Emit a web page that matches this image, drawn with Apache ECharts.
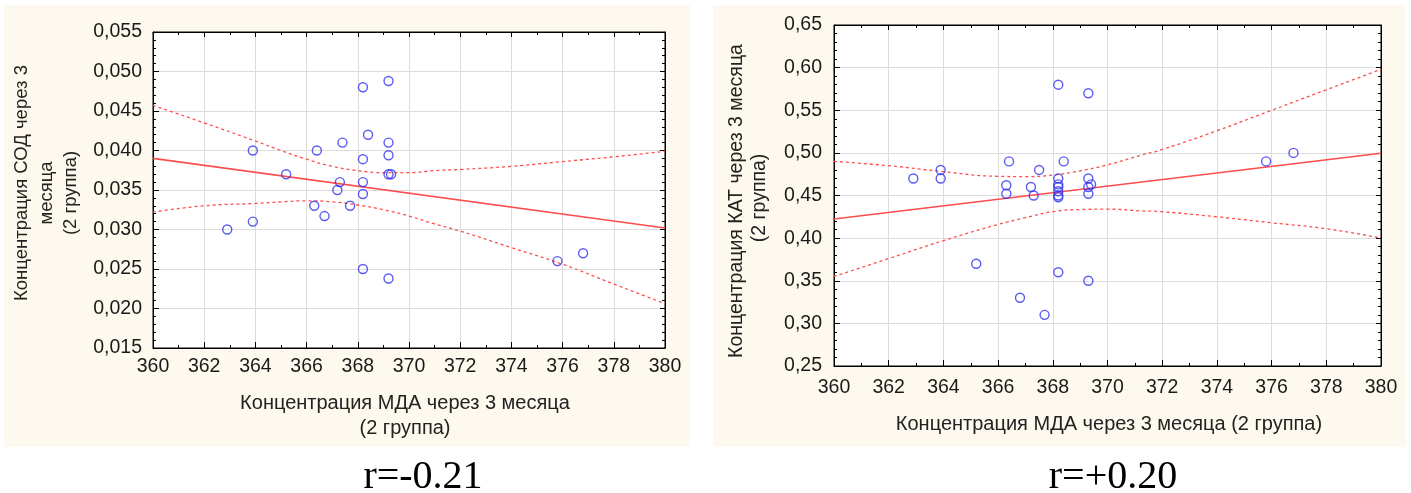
<!DOCTYPE html>
<html>
<head>
<meta charset="utf-8">
<script src="https://cdn.jsdelivr.net/npm/echarts@6/dist/echarts.min.js"></script>
<style>
html,body{margin:0;padding:0;background:#fff;}
#c{width:1411px;height:493px;}
</style>
</head>
<body>
<div id="c"></div>
<script>
// ---- data ----
const xTicksMin = 360, xTicksMax = 380, xInterval = 2;

// Left chart: МДА vs СОД
const sodX = [362.9, 363.9, 363.9, 365.2, 366.3, 366.4, 366.7, 367.2, 367.3, 367.4, 367.7, 368.2, 368.2, 368.2, 368.2, 368.2, 368.4, 369.2, 369.2, 369.2, 369.2, 369.3, 369.2, 375.8, 376.8];
const sodY = [0.030, 0.040, 0.031, 0.037, 0.033, 0.040, 0.0317, 0.035, 0.036, 0.041, 0.033, 0.048, 0.0389, 0.036, 0.0345, 0.025, 0.042, 0.0488, 0.041, 0.0394, 0.037, 0.037, 0.0238, 0.026, 0.027];
const sodFitX = [360, 380];
const sodFitY = [0.0390, 0.0302];
const sodBandX = [360, 362, 364, 365, 366, 367, 368, 369, 370, 371, 372, 374, 376, 378, 380];
const sodUpper = [0.0457, 0.0435, 0.0412, 0.0400, 0.0389, 0.0380, 0.03745, 0.0372, 0.0372, 0.03745, 0.0376, 0.0380, 0.0386, 0.0392, 0.0399];
const sodLower = [0.0322, 0.0330, 0.0333, 0.0335, 0.03363, 0.0335, 0.0331, 0.0325, 0.0317, 0.0307, 0.0298, 0.0277, 0.0256, 0.0231, 0.0206];

// Right chart: МДА vs КАТ
const katX = [362.9, 363.9, 363.9, 365.2, 366.3, 366.3, 366.4, 366.8, 367.2, 367.3, 367.5, 367.7, 368.2, 368.2, 368.2, 368.2, 368.2, 368.2, 368.2, 368.2, 368.4, 369.3, 369.3, 369.3, 369.4, 369.3, 369.3, 375.8, 376.8];
const katY = [0.47, 0.48, 0.47, 0.37, 0.462, 0.452, 0.49, 0.33, 0.46, 0.45, 0.48, 0.31, 0.58, 0.47, 0.463, 0.46, 0.455, 0.45, 0.448, 0.36, 0.49, 0.57, 0.47, 0.46, 0.463, 0.452, 0.35, 0.49, 0.50];
const katFitX = [360, 380];
const katFitY = [0.4225, 0.4996];
const katBandX = [360, 362, 364, 366, 367, 368, 369, 370, 371.2, 372, 374, 376, 378, 380];
const katUpper = [0.490, 0.485, 0.478, 0.4725, 0.4722, 0.474, 0.479, 0.486, 0.497, 0.504, 0.526, 0.550, 0.574, 0.598];
const katLower = [0.355, 0.376, 0.397, 0.416, 0.424, 0.431, 0.4335, 0.434, 0.432, 0.431, 0.425, 0.418, 0.411, 0.400];

const sodYMin = 0.015, sodYMax = 0.055, sodYInterval = 0.005;
const katYMin = 0.25, katYMax = 0.65, katYInterval = 0.05;

const leftTitleY = ['Концентрация СОД через 3', 'месяца', '(2 группа)'];
const leftTitleX = ['Концентрация МДА через 3 месяца', '(2 группа)'];
const rightTitleY = ['Концентрация КАТ через 3 месяца', '(2 группа)'];
const rightTitleX = ['Концентрация МДА через 3 месяца (2 группа)'];
const rLabels = ['r=-0.21', 'r=+0.20'];

// ---- build ----
const zip = (a, b) => a.map((v, i) => [v, b[i]]);
const FONT = 'Liberation Sans, Arial, sans-serif';
const PT_COLOR = '#3232ee';
const LINE_COLOR = '#ff4d4d';
const TICK_FS = 19.5;

function xAxes(gi, margin) {
  return [{
    gridIndex: gi, type: 'value', min: xTicksMin, max: xTicksMax, interval: xInterval,
    axisLine: {show: true, lineStyle: {color: '#000', width: 1}},
    axisTick: {show: true, inside: true, length: 6, lineStyle: {color: '#000'}},
    minorTick: {show: true, splitNumber: 2, length: 3, lineStyle: {color: '#000'}},
    axisLabel: {color: '#1a1a1a', fontSize: TICK_FS, fontFamily: FONT, margin: margin},
    splitLine: {show: true, lineStyle: {color: '#dcdcdc', width: 1}}
  }, {
    gridIndex: gi, type: 'value', position: 'top', min: xTicksMin, max: xTicksMax, interval: xInterval,
    axisLine: {show: true, lineStyle: {color: '#000', width: 1}},
    axisTick: {show: true, inside: true, length: 5, lineStyle: {color: '#000'}},
    minorTick: {show: true, splitNumber: 2, length: 3, lineStyle: {color: '#000'}},
    axisLabel: {show: false}, splitLine: {show: false}
  }];
}
function yAxes(gi, min, max, interval, digits, margin) {
  return [{
    gridIndex: gi, type: 'value', min: min, max: max, interval: interval,
    axisLine: {show: true, lineStyle: {color: '#000', width: 1}},
    axisTick: {show: true, inside: true, length: 6, lineStyle: {color: '#000'}},
    minorTick: {show: true, splitNumber: 5, length: 3, lineStyle: {color: '#000'}},
    axisLabel: {color: '#1a1a1a', fontSize: TICK_FS, fontFamily: FONT, margin: margin,
      formatter: v => v.toFixed(digits).replace('.', ',')},
    splitLine: {show: true, lineStyle: {color: '#dcdcdc', width: 1}}
  }, {
    gridIndex: gi, type: 'value', position: 'right', min: min, max: max, interval: interval,
    axisLine: {show: true, lineStyle: {color: '#000', width: 1}},
    axisTick: {show: true, inside: true, length: 5, lineStyle: {color: '#000'}},
    minorTick: {show: true, splitNumber: 5, length: 3, lineStyle: {color: '#000'}},
    axisLabel: {show: false}, splitLine: {show: false}
  }];
}

function seriesFor(xi, yi, px, py, fx, fy, bx, bu, bl) {
  const dash = {color: LINE_COLOR, width: 1.3, type: [3, 3]};
  return [
    {type: 'line', xAxisIndex: xi, yAxisIndex: yi, data: zip(bx, bu), smooth: true, symbol: 'none', lineStyle: dash, silent: true, z: 2},
    {type: 'line', xAxisIndex: xi, yAxisIndex: yi, data: zip(bx, bl), smooth: true, symbol: 'none', lineStyle: dash, silent: true, z: 2},
    {type: 'line', xAxisIndex: xi, yAxisIndex: yi, data: zip(fx, fy), symbol: 'none', lineStyle: {color: LINE_COLOR, width: 1.6}, silent: true, z: 2},
    {type: 'scatter', xAxisIndex: xi, yAxisIndex: yi, data: zip(px, py), symbol: 'circle', symbolSize: 9,
      itemStyle: {color: 'rgba(0,0,0,0)', borderColor: PT_COLOR, borderWidth: 1.4}, z: 3}
  ];
}

function txt(text, x, y, opts) {
  return Object.assign({
    type: 'text', x: x, y: y, z: 10,
    style: Object.assign({text: text, fill: '#222', font: '20px ' + FONT, align: 'center', verticalAlign: 'middle'}, opts && opts.style || {})
  }, opts && opts.el || {});
}

const graphics = [
  {type: 'rect', shape: {x: 4, y: 5, width: 686, height: 442}, style: {fill: '#fef9ee'}, z: -100, silent: true},
  {type: 'rect', shape: {x: 713, y: 5, width: 693, height: 442}, style: {fill: '#fef9ee'}, z: -100, silent: true}
];
// left y title
const lyx = [22, 46.5, 71], lyy = [183, 193, 193];
leftTitleY.forEach((t, i) => graphics.push(txt(t, lyx[i], lyy[i], {el: {rotation: Math.PI / 2}, style: {font: '18.5px ' + FONT}})));
// left x title
const lxy = [403, 428];
leftTitleX.forEach((t, i) => graphics.push(txt(t, 405, lxy[i])));
// right y title
const ryx = [737, 760], ryy = [201, 198];
rightTitleY.forEach((t, i) => graphics.push(txt(t, ryx[i], ryy[i], {el: {rotation: Math.PI / 2}, style: {font: '19.5px ' + FONT}})));
// right x title
rightTitleX.forEach((t) => graphics.push(txt(t, 1109, 424)));
// r labels
const serif = '40px Liberation Serif, Times New Roman, serif';
graphics.push(txt(rLabels[0], 423, 477, {style: {font: serif, fill: '#000'}}));
graphics.push(txt(rLabels[1], 1113, 477, {style: {font: serif, fill: '#000'}}));

const chart = echarts.init(document.getElementById('c'), null, {renderer: 'canvas'});
chart.setOption({
  animation: false,
  backgroundColor: '#ffffff',
  grid: [
    {left: 153, top: 32, width: 512, height: 316, show: true, backgroundColor: '#fff', borderColor: '#000', borderWidth: 1},
    {left: 834, top: 25, width: 547, height: 341, show: true, backgroundColor: '#fff', borderColor: '#000', borderWidth: 1}
  ],
  xAxis: [...xAxes(0, 9), ...xAxes(1, 12)],
  yAxis: [...yAxes(0, sodYMin, sodYMax, sodYInterval, 3, 11), ...yAxes(1, katYMin, katYMax, katYInterval, 2, 12)],
  series: [
    ...seriesFor(0, 0, sodX, sodY, sodFitX, sodFitY, sodBandX, sodUpper, sodLower),
    ...seriesFor(2, 2, katX, katY, katFitX, katFitY, katBandX, katUpper, katLower)
  ],
  graphic: graphics
});
</script>
</body>
</html>
